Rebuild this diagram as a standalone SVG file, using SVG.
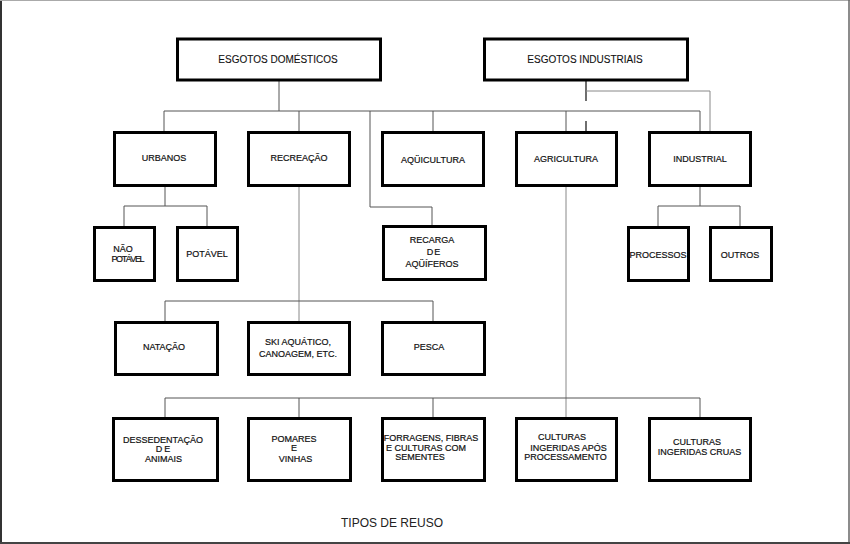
<svg xmlns="http://www.w3.org/2000/svg" width="850" height="544" viewBox="0 0 850 544">
<style>
.b{fill:#fff;stroke:#000;stroke-width:3}
.t{font-family:"Liberation Sans",Arial,sans-serif;font-size:9px;fill:#111;stroke:#111;stroke-width:0.2;text-anchor:middle}
.h{font-size:10px;stroke-width:0.1}
.c{fill:none;stroke:#555;stroke-width:1}
.l{fill:none;stroke:#888;stroke-width:1}
.d{fill:none;stroke:#222;stroke-width:1.3}
</style>
<rect x="0" y="0" width="850" height="544" fill="#fff"/>
<g id="frame">
<line x1="1" y1="0" x2="1" y2="544" stroke="#333" stroke-width="2"/>
<line x1="0" y1="0.5" x2="850" y2="0.5" stroke="#aaa" stroke-width="1"/>
<line x1="849" y1="0" x2="849" y2="544" stroke="#666" stroke-width="1.5"/>
<line x1="0" y1="543" x2="850" y2="543" stroke="#444" stroke-width="2"/>
</g>
<g id="connectors">
<path class="c" d="M279 81V111"/>
<path class="c" d="M164 111H700"/>
<path class="c" d="M164 111V131M299 111V131M433 111V131M566 111V131M700 111V131"/>
<path class="c" d="M370 111V207H432V225"/>
<path class="d" d="M586 81V101M586 121V131"/>
<path class="l" d="M586 91H710V131"/>
<path class="c" d="M165 187V206M124 226V206H207V226"/>
<path class="c" d="M700 187V206M658 226V206H740V226"/>
<path class="l" d="M299 187V321"/>
<path class="c" d="M165 321V301H433V321"/>
<path class="l" d="M566 187V417"/>
<path class="c" d="M165 417V398H700V417M299 398V417M433 398V417"/>
</g>
<g id="esgotos-domesticos"><rect class="b" x="177.5" y="39" width="203" height="41"/><text class="t h" x="278" y="63">ESGOTOS DOMÉSTICOS</text></g>
<g id="esgotos-industriais"><rect class="b" x="484.5" y="39" width="203" height="41"/><text class="t h" x="585" y="62.5">ESGOTOS INDUSTRIAIS</text></g>
<g id="urbanos"><rect class="b" x="114.5" y="132.5" width="101" height="53"/><text class="t" x="164" y="161">URBANOS</text></g>
<g id="recreacao"><rect class="b" x="248.5" y="132.5" width="101" height="53"/><text class="t" x="299" y="161">RECREAÇÃO</text></g>
<g id="aquicultura"><rect class="b" x="382.5" y="132.5" width="101" height="53"/><text class="t" x="433" y="163">AQÜICULTURA</text></g>
<g id="agricultura"><rect class="b" x="516.5" y="132.5" width="100" height="53"/><text class="t" x="566" y="162">AGRICULTURA</text></g>
<g id="industrial"><rect class="b" x="649.5" y="132.5" width="101" height="53"/><text class="t" x="700" y="162">INDUSTRIAL</text></g>
<g id="nao-potavel"><rect class="b" x="94.5" y="227.5" width="60" height="53"/><text class="t" x="123" y="252">NÃO</text><text class="t" x="128" y="262" textLength="33" lengthAdjust="spacing">POTÁVEL</text></g>
<g id="potavel"><rect class="b" x="177.5" y="227.5" width="60" height="53"/><text class="t" x="207" y="257">POTÁVEL</text></g>
<g id="recarga"><rect class="b" x="383.5" y="226.5" width="102" height="53"/><text class="t" x="432" y="243">RECARGA</text><text class="t" x="434" y="255" letter-spacing="1">DE</text><text class="t" x="432" y="267">AQÜÍFEROS</text></g>
<g id="processos"><rect class="b" x="628.5" y="227.5" width="60" height="53"/><text class="t" x="658" y="257.5">PROCESSOS</text></g>
<g id="outros"><rect class="b" x="710.5" y="227.5" width="61" height="53"/><text class="t" x="740" y="257.5">OUTROS</text></g>
<g id="natacao"><rect class="b" x="115.5" y="322.5" width="102" height="52"/><text class="t" x="164" y="350">NATAÇÃO</text></g>
<g id="ski"><rect class="b" x="248.5" y="322.5" width="101" height="52"/><text class="t" x="298" y="345">SKI  AQUÁTICO,</text><text class="t" x="298" y="356.5">CANOAGEM, ETC.</text></g>
<g id="pesca"><rect class="b" x="382.5" y="322.5" width="102" height="52"/><text class="t" x="429" y="350">PESCA</text></g>
<g id="dessedentacao"><rect class="b" x="113.5" y="418.5" width="104" height="62"/><text class="t" x="163" y="442.5">DESSEDENTAÇÃO</text><text class="t" x="164" y="451.5" letter-spacing="2">DE</text><text class="t" x="163.5" y="462">ANIMAIS</text></g>
<g id="pomares"><rect class="b" x="248.5" y="418.5" width="102" height="62"/><text class="t" x="294" y="442">POMARES</text><text class="t" x="294" y="451">E</text><text class="t" x="295.5" y="461.5">VINHAS</text></g>
<g id="forragens"><rect class="b" x="382.5" y="418.5" width="102" height="62"/><text class="t" x="431" y="441">FORRAGENS, FIBRAS</text><text class="t" x="426" y="450.5">E CULTURAS COM</text><text class="t" x="420" y="460">SEMENTES</text></g>
<g id="culturas-processamento"><rect class="b" x="516.5" y="418.5" width="100" height="62"/><text class="t" x="562" y="440">CULTURAS</text><text class="t" x="568.5" y="450.5">INGERIDAS APÓS</text><text class="t" x="565.5" y="460">PROCESSAMENTO</text></g>
<g id="culturas-cruas"><rect class="b" x="649.5" y="418.5" width="101" height="62"/><text class="t" x="697" y="445">CULTURAS</text><text class="t" x="699.5" y="455">INGERIDAS CRUAS</text></g>
<text x="392" y="526.5" font-family="'Liberation Sans',Arial,sans-serif" font-size="13.5" fill="#222" text-anchor="middle" textLength="102" lengthAdjust="spacingAndGlyphs">TIPOS DE REUSO</text>
</svg>
